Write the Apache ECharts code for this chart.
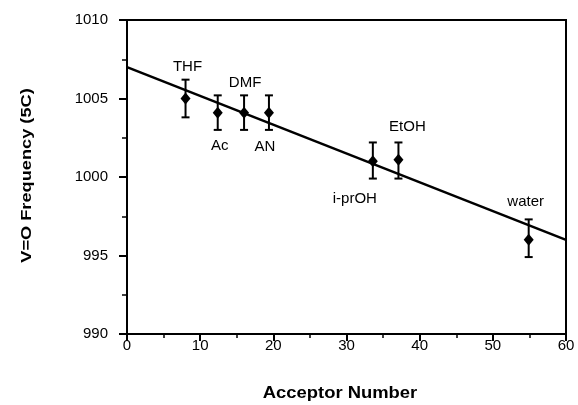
<!DOCTYPE html>
<html><head><meta charset="utf-8">
<script src="https://cdn.jsdelivr.net/npm/echarts@6/dist/echarts.min.js"></script>
<style>html,body{margin:0;padding:0;background:#fff}#c{width:578px;height:405px}</style>
</head><body><div id="c"></div>
<script>
const solvents = ['THF', 'Ac', 'DMF', 'AN', 'i-prOH', 'EtOH', 'water'];
const acceptorNumber = [8.0, 12.4, 16.0, 19.4, 33.6, 37.1, 54.9];
const frequency = [1005.0, 1004.1, 1004.1, 1004.1, 1001.0, 1001.1, 996.0];
const errLow = [1003.8, 1003.0, 1003.0, 1003.0, 999.9, 999.9, 994.9];
const errHigh = [1006.2, 1005.2, 1005.2, 1005.2, 1002.2, 1002.2, 997.3];
const fitX = [0, 60];
const fitY = [1007.0, 996.0];
const xTicks = [0, 10, 20, 30, 40, 50, 60];
const yTicks = [990, 995, 1000, 1005, 1010];
const xTitle = 'Acceptor Number';
const yTitle = 'V=O Frequency (5C)';

const labelOffsets = {
  'THF': [2, -32], 'Ac': [2, 33], 'DMF': [1, -30], 'AN': [-4, 34],
  'i-prOH': [-18, 38], 'EtOH': [9, -33], 'water': [-3, -38]
};
const FONT = '"Liberation Sans", Arial, sans-serif';

const chart = echarts.init(document.getElementById('c'));
const points = solvents.map((s, i) => ({
  name: s, value: [acceptorNumber[i], frequency[i]],
  label: { show: true, formatter: s, position: 'inside', offset: labelOffsets[s], color: '#000', textBorderWidth: 0 }
}));
const errData = solvents.map((s, i) => [acceptorNumber[i], errLow[i], errHigh[i]]);

chart.setOption({
  animation: false,
  grid: { left: 127, right: 12, top: 20, bottom: 71, show: true, borderColor: '#000', borderWidth: 2 },
  xAxis: {
    type: 'value', min: xTicks[0], max: xTicks[xTicks.length - 1], interval: 10,
    axisLine: { lineStyle: { color: '#000', width: 2 } },
    axisTick: { length: 7, lineStyle: { color: '#000', width: 2 } },
    minorTick: { show: true, splitNumber: 2, length: 4, lineStyle: { color: '#000', width: 1.5 } },
    splitLine: { show: false },
    axisLabel: { color: '#000', fontSize: 15, fontFamily: FONT, margin: 4 }
  },
  yAxis: {
    type: 'value', min: yTicks[0], max: yTicks[yTicks.length - 1], interval: 5,
    axisLine: { lineStyle: { color: '#000', width: 2 } },
    axisTick: { length: 8, lineStyle: { color: '#000', width: 2 } },
    minorTick: { show: true, splitNumber: 2, length: 5, lineStyle: { color: '#000', width: 1.5 } },
    splitLine: { show: false },
    axisLabel: { color: '#000', fontSize: 15, fontFamily: FONT, margin: 19, formatter: v => String(v) }
  },
  graphic: [{
    type: 'text', x: 27, y: 175.5, rotation: Math.PI / 2, scaleX: 1.3,
    style: { text: yTitle, fill: '#000', font: 'bold 14px ' + FONT, align: 'center', verticalAlign: 'middle' }
  }, {
    type: 'text', x: 340, y: 394, scaleX: 1.15,
    style: { text: xTitle, fill: '#000', font: 'bold 16px ' + FONT, align: 'center', verticalAlign: 'middle' }
  }],
  series: [
    {
      type: 'line', data: fitX.map((x, i) => [x, fitY[i]]), showSymbol: false,
      lineStyle: { color: '#000', width: 2.5 }, z: 2
    },
    {
      type: 'custom', data: errData, z: 3,
      renderItem: (params, api) => {
        const x = api.value(0);
        const lo = api.coord([x, api.value(1)]);
        const hi = api.coord([x, api.value(2)]);
        const w = 4;
        const st = { stroke: '#000', lineWidth: 2 };
        return { type: 'group', children: [
          { type: 'line', shape: { x1: lo[0], y1: lo[1], x2: hi[0], y2: hi[1] }, style: st },
          { type: 'line', shape: { x1: lo[0] - w, y1: lo[1], x2: lo[0] + w, y2: lo[1] }, style: st },
          { type: 'line', shape: { x1: hi[0] - w, y1: hi[1], x2: hi[0] + w, y2: hi[1] }, style: st }
        ] };
      }
    },
    {
      type: 'scatter', data: points, symbol: 'diamond', symbolSize: [10, 12],
      itemStyle: { color: '#000', opacity: 1 }, z: 4,
      label: { color: '#000', fontSize: 15, fontFamily: FONT }
    }
  ]
});
</script></body></html>
